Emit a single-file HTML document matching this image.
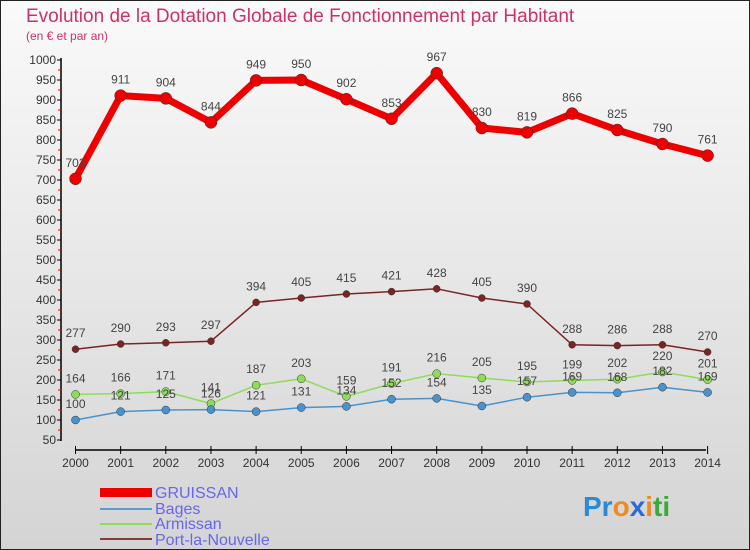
<!DOCTYPE html>
<html><head><meta charset="utf-8"><style>
body{margin:0;width:750px;height:550px;overflow:hidden;font-family:"Liberation Sans",sans-serif}
svg{display:block}
</style></head><body>
<svg width="750" height="550" xmlns="http://www.w3.org/2000/svg">
<defs><linearGradient id="bg" x1="0" y1="0" x2="0" y2="1"><stop offset="0" stop-color="#fafafa"/><stop offset="1" stop-color="#d4d4d4"/></linearGradient></defs>
<rect x="0.5" y="0.5" width="749" height="549" fill="url(#bg)" stroke="#222"/>
<text x="26" y="22" font-size="19" fill="#d0306a">Evolution de la Dotation Globale de Fonctionnement par Habitant</text>
<text x="26" y="40" font-size="12" fill="#d0306a">(en € et par an)</text>
<g id="axes"></g><g id="series"></g>
<g>
<rect x="100" y="488" width="52" height="9" fill="#e00"/>
<text x="155" y="498" font-size="16" fill="#6666ee">GRUISSAN</text>
<line x1="100" y1="509" x2="152" y2="509" stroke="#5b9bd0" stroke-width="2"/>
<text x="155" y="514" font-size="16" fill="#6666ee">Bages</text>
<line x1="100" y1="524" x2="152" y2="524" stroke="#8fdc5a" stroke-width="2"/>
<text x="155" y="529" font-size="16" fill="#6666ee">Armissan</text>
<line x1="100" y1="539" x2="152" y2="539" stroke="#8b3a3a" stroke-width="2"/>
<text x="155" y="545" font-size="16" fill="#6666ee">Port-la-Nouvelle</text>
</g>
<text x="583" y="516" font-size="28" font-weight="bold"><tspan fill="#2a8ad8">Pr</tspan><tspan fill="#f08a1c">o</tspan><tspan fill="#2a6ad8">x</tspan><tspan fill="#f08a1c">i</tspan><tspan fill="#3aaa3a">ti</tspan></text>
</svg>
<script>
const years=[2000,2001,2002,2003,2004,2005,2006,2007,2008,2009,2010,2011,2012,2013,2014];
const gruissan=[703,911,904,844,949,950,902,853,967,830,819,866,825,790,761];
const bages=[100,121,125,126,121,131,134,152,154,135,157,169,168,182,169];
const armissan=[164,166,171,141,187,203,159,191,216,205,195,199,202,220,201];
const port=[277,290,293,297,394,405,415,421,428,405,390,288,286,288,270];
const yTicks=[50,100,150,200,250,300,350,400,450,500,550,600,650,700,750,800,850,900,950,1000];
const NS="http://www.w3.org/2000/svg";
const xs=i=>75.5+i*45.15, ys=v=>440-(v-50)*0.4;
function mk(t,a,p){const e=document.createElementNS(NS,t);for(const k in a)e.setAttribute(k,a[k]);p.appendChild(e);return e;}
const ax=document.getElementById('axes');
let l=mk('line',{x1:61,y1:58,x2:61,y2:441,stroke:'#000','stroke-width':1.5},ax);


l=mk('line',{x1:75,y1:450,x2:706,y2:450,stroke:'#000','stroke-width':1.5},ax);


yTicks.forEach(v=>{const y=ys(v);
 mk('line',{x1:57,y1:y,x2:61,y2:y,stroke:'#000'},ax);
 if(v>50) mk('line',{x1:58,y1:y+10,x2:61,y2:y+10,stroke:'#e00'},ax);
 const t=mk('text',{x:56,y:y+4,'font-size':12,'text-anchor':'end',fill:'#333'},ax);t.textContent=v;
 
 });
years.forEach((yr,i)=>{const x=xs(i);
 mk('line',{x1:x,y1:446,x2:x,y2:454,stroke:'#000'},ax);
 const t=mk('text',{x:x,y:467,'font-size':12,'text-anchor':'middle',fill:'#333'},ax);t.textContent=yr;
 
 });
const sg=document.getElementById('series');
function draw(vals,color,w,r,name){
 const g=mk('g',{},sg);
 
 
 mk('polyline',{points:vals.map((v,i)=>xs(i)+','+ys(v)).join(' '),fill:'none',stroke:color,'stroke-width':w,'stroke-linejoin':'round'},g);
 vals.forEach((v,i)=>{const c=mk('circle',{cx:xs(i),cy:ys(v),r:r,fill:color,stroke:'#333','stroke-width':0.5},g);
  
  
  const t=mk('text',{x:xs(i),y:ys(v)-12,'font-size':12,'text-anchor':'middle',fill:'#444'},g);t.textContent=v;
  
  });
}
draw(port,'#7a2424',1.5,3.5,'port-la-nouvelle');
draw(armissan,'#8fdc5a',1.5,4,'armissan');
draw(bages,'#4a92cc',1.5,4,'bages');
draw(gruissan,'#ee0000',7,6,'gruissan');
</script>
</body></html>
